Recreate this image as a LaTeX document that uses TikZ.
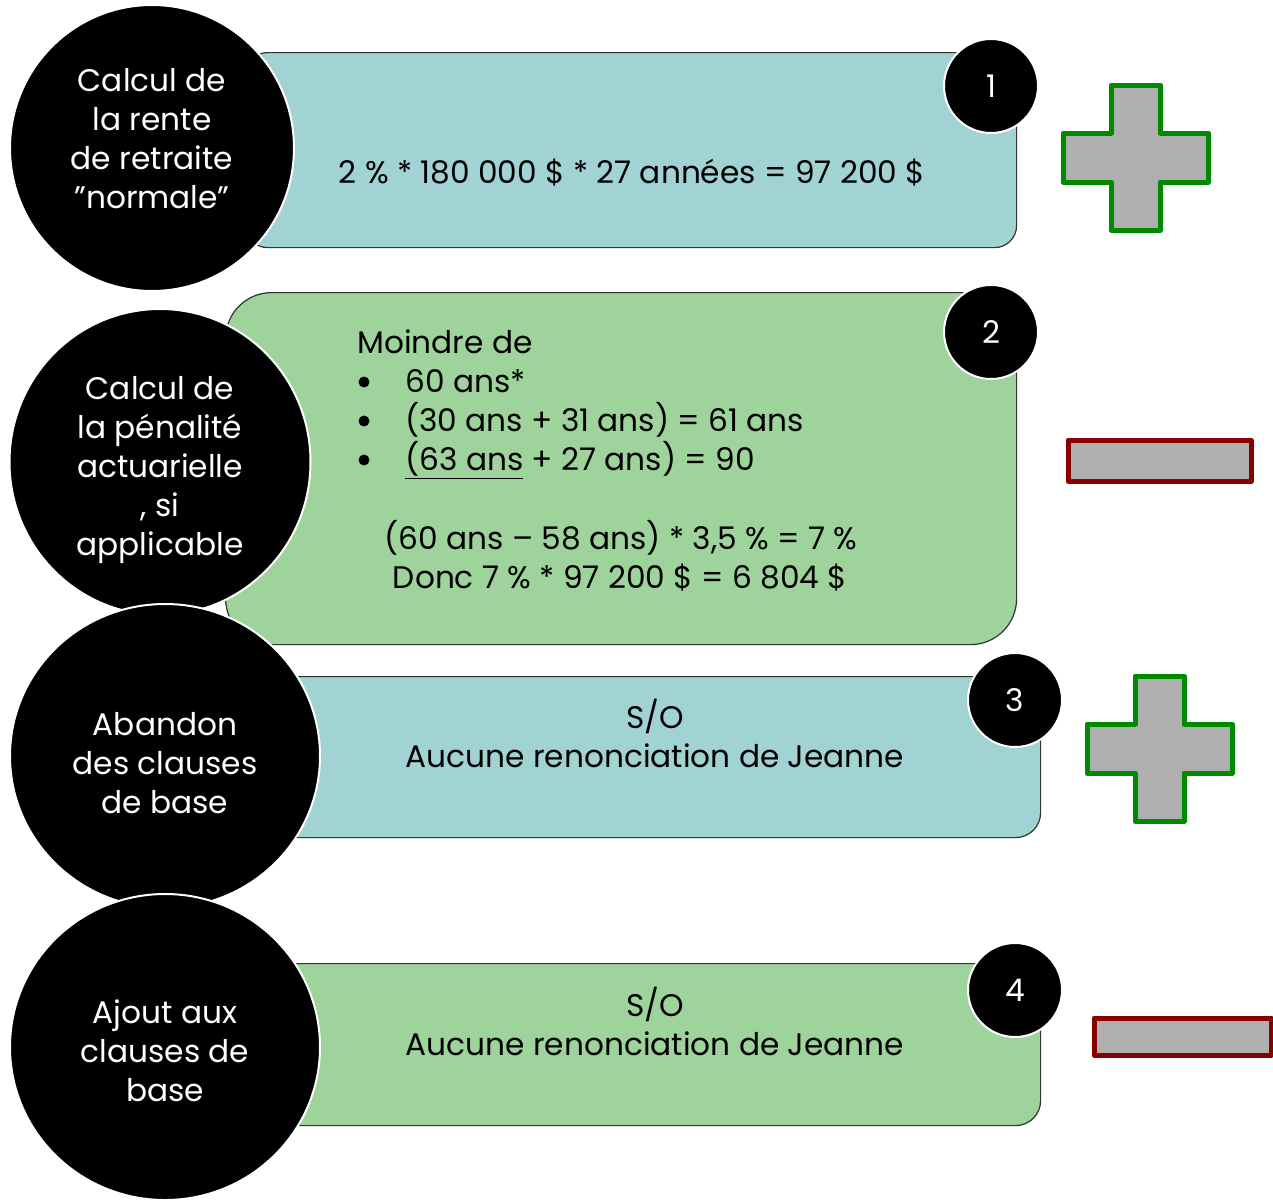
\documentclass[tikz,border=0pt]{standalone}
\usepackage{fontspec}
\setmainfont{Poppins}
\usepackage{xcolor}
\usepackage{tikz}
\usetikzlibrary{shapes.geometric}
\definecolor{tealbox}{HTML}{A1D3D4}
\definecolor{greenbox}{HTML}{9ED39C}
\definecolor{signgray}{HTML}{AFAFAF}
\definecolor{plusgreen}{HTML}{008A00}
\definecolor{minusred}{HTML}{880000}
\tikzset{every node/.append style={font=\fontsize{15.6}{19.5}\selectfont}}
\tikzset{
    infobox/.style={rectangle, draw=black!80, line width=0.6pt, inner sep=0pt, anchor=north west},
    stepdisc/.style={ellipse, fill=black, draw=white, line width=1pt, inner sep=0pt},
    disctext/.style={text=white, align=center, inner sep=0pt},
    numdisc/.style={circle, fill=black, draw=white, line width=1pt, text=white, minimum size=47pt, inner sep=0pt},
    listdot/.style={circle, fill=black, inner sep=0pt, minimum size=5.5pt},
    signplus/.style={fill=signgray, draw=plusgreen, line width=2.5pt, line join=round},
    signminus/.style={fill=signgray, draw=minusred, line width=2.5pt, line join=round}
}

\begin{document}
\begin{tikzpicture}[x=0.5pt, y=-0.5pt]
    \useasboundingbox (0,0) rectangle (1273,1199);
    % boxes
    \node[infobox, fill=tealbox, rounded corners=11pt, minimum width=385.5pt, minimum height=97.5pt] (box1) at (245,52) {};
    \node[infobox, fill=greenbox, rounded corners=23pt, minimum width=395.5pt, minimum height=176pt] (box2) at (225,292) {};
    \node[infobox, fill=tealbox, rounded corners=12.5pt, minimum width=395pt, minimum height=80.5pt] (box3) at (250,676) {};
    \node[infobox, fill=greenbox, rounded corners=12.5pt, minimum width=395pt, minimum height=81pt] (box4) at (250,963) {};
    % texts in the boxes
    \node[anchor=base] (calc1) at (632,183) {2 \% * 180 000 \$ * 27 années = 97 200 \$};
    \node[anchor=base west, inner sep=0pt] (moindre) at (357,353) {Moindre de};
    \foreach \y/\t [count=\i] in {392/{60 ans*}, 431/{(30 ans + 31 ans) = 61 ans}, 470/{\underline{(63 ans} + 27 ans) = 90}} {
        \node[listdot] (bul\i) at (364,\y-10) {};
        \node[anchor=base west, inner sep=0pt] (item\i) at (405,\y) {\t};
    }
    \node[anchor=base] (diff) at (621,549) {(60 ans – 58 ans) * 3,5 \% = 7 \%};
    \node[anchor=base] (donc) at (620,588) {Donc 7 \% * 97 200 \$ = 6 804 \$};
    \node[anchor=base] (so3) at (655,728) {S/O};
    \node[anchor=base] (jeanne3) at (655,767) {Aucune renonciation de Jeanne};
    \node[anchor=base] (so4) at (655,1016) {S/O};
    \node[anchor=base] (jeanne4) at (655,1055) {Aucune renonciation de Jeanne};
    % step discs
    \node[stepdisc, minimum width=142pt, minimum height=143pt] (disc1) at (152,148) {};
    \node[stepdisc, minimum width=150.5pt, minimum height=153pt] (disc2) at (160,462) {};
    \node[stepdisc, minimum width=155pt, minimum height=152pt] (disc3) at (165,756) {};
    \node[stepdisc, minimum width=155pt, minimum height=153pt] (disc4) at (165,1047) {};
    \node[disctext] (lab1) at ([yshift=4.5pt]disc1) {Calcul de\\la rente\\de retraite\\"normale"};
    \node[disctext] (lab2) at ([yshift=-4pt]disc2) {Calcul de\\la pénalité\\actuarielle\\, si\\applicable};
    \node[disctext] (lab3) at ([yshift=-3.5pt]disc3) {Abandon\\des clauses\\de base};
    \node[disctext] (lab4) at ([yshift=-2pt]disc4) {Ajout aux\\clauses de\\base};
    % numbers
    \foreach \x/\y/\n in {991/86/1, 991/332/2, 1015/700/3, 1015/990/4}
        \node[numdisc] (num\n) at (\x,\y) {\n};
    % plus and minus signs
    \foreach \px/\py in {1063/85, 1087/676}
        \draw[signplus] (\px+48,\py) -- ++(49,0) -- ++(0,48) -- ++(48,0) -- ++(0,49) -- ++(-48,0)
            -- ++(0,48) -- ++(-49,0) -- ++(0,-48) -- ++(-48,0) -- ++(0,-49) -- ++(48,0) -- cycle;
    \draw[signminus] (1068,440) rectangle (1251,481);
    \draw[signminus] (1094,1018) rectangle (1271,1055);
\end{tikzpicture}
\end{document}
